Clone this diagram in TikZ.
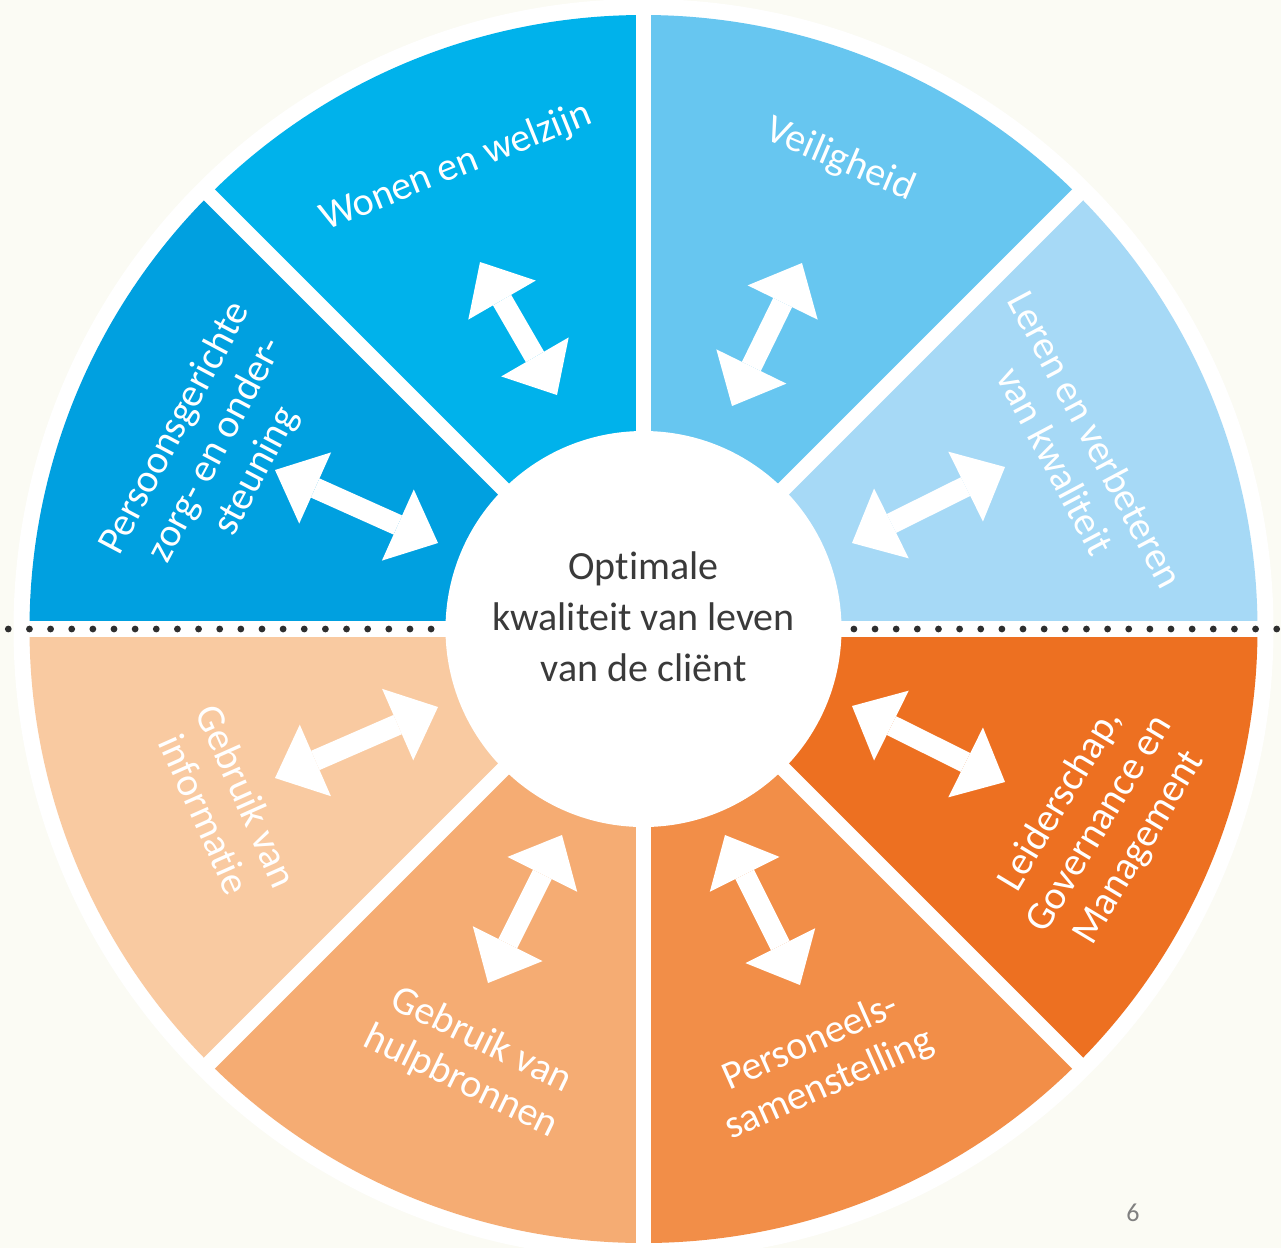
\documentclass[tikz,border=0pt]{standalone}
\usepackage{fontspec}
\setmainfont[Ligatures=NoCommon]{Carlito}
\usetikzlibrary{arrows.meta}
\definecolor{bg}{HTML}{FBFBF4}
\definecolor{cWonen}{HTML}{00B2EB}
\definecolor{cPers}{HTML}{00A0E0}
\definecolor{cVeil}{HTML}{67C6F0}
\definecolor{cLeren}{HTML}{A6D9F6}
\definecolor{cLeid}{HTML}{ED7021}
\definecolor{cPerso}{HTML}{F28E48}
\definecolor{cHulp}{HTML}{F5AC73}
\definecolor{cInfo}{HTML}{F9CAA1}
\definecolor{txt}{HTML}{3A3A3A}
\definecolor{dotc}{HTML}{2E2E2E}
\definecolor{pgc}{HTML}{808080}
\begin{document}
\begin{tikzpicture}[x=1pt,y=-1pt,
  lbl/.style={text=white, font=\fontsize{40}{46}\selectfont, align=center, inner sep=0pt},
  dbl/.style={draw=white, line width=21pt,
    {Triangle[length=44pt,width=78pt,line width=0pt]}-{Triangle[length=44pt,width=78pt,line width=0pt]}},
  gap/.style={draw=white, line width=15.5pt},
  sector/.style={fill=#1}
]
\useasboundingbox (0,0) rectangle (1281,1248);
\fill[bg] (0,0) rectangle (1281,1248);
\coordinate (C) at (643.5,629);
\fill[white] (C) circle[radius=630];
% sectors (coordinate angle = - screen angle)
\fill[sector=cLeren] (C) -- ++(0:614) arc[start angle=0,end angle=-45,radius=614] -- cycle;
\fill[sector=cVeil] (C) -- ++(-45:614) arc[start angle=-45,end angle=-90,radius=614] -- cycle;
\fill[sector=cWonen] (C) -- ++(-90:614) arc[start angle=-90,end angle=-135,radius=614] -- cycle;
\fill[sector=cPers] (C) -- ++(-135:614) arc[start angle=-135,end angle=-180,radius=614] -- cycle;
\fill[sector=cInfo] (C) -- ++(-180:614) arc[start angle=-180,end angle=-225,radius=614] -- cycle;
\fill[sector=cHulp] (C) -- ++(-225:614) arc[start angle=-225,end angle=-270,radius=614] -- cycle;
\fill[sector=cPerso] (C) -- ++(-270:614) arc[start angle=-270,end angle=-315,radius=614] -- cycle;
\fill[sector=cLeid] (C) -- ++(-315:614) arc[start angle=-315,end angle=-360,radius=614] -- cycle;
% white gaps
\foreach \a in {45,90,135,225,270,315} \draw[gap] (C) -- ++(\a:628);
\draw[gap, line width=16.5pt] (C) ++(-628,0) -- ++(1256,0);
% dotted line
\foreach \i in {0,...,60} \fill[dotc] (8.3+21.14*\i,629) circle[radius=3.4];
% centre
\fill[white] (C) circle[radius=198];
\node[font=\fontsize{40}{51}\selectfont, text=txt, align=center, inner sep=0pt] (centre) at (643.5,617)
  {Optimale\\kwaliteit van leven\\van de cliënt};
% labels
\node[lbl, rotate=22] (wonen) at (456,167) {Wonen en welzijn};
\node[lbl, rotate=-23] (veil) at (840,160) {Veiligheid};
\node[lbl, rotate=-62] (leren) at (1076,450) {Leren en verbeteren\\van kwaliteit};
\node[lbl, rotate=62] (pers) at (216,450) {Persoonsgerichte\\zorg- en onder-\\steuning};
\node[lbl, rotate=-66] (info) at (226,805) {Gebruik van\\informatie};
\node[lbl, rotate=-26] (hulp) at (471,1061) {Gebruik van\\hulpbronnen};
\node[lbl, rotate=24] (perso) at (820,1064) {Personeels-\\samenstelling};
\node[lbl, rotate=59] (leid) at (1100,824) {Leiderschap,\\Governance en\\Management};
% arrows
\coordinate (w1) at (480,262); \coordinate (w2) at (557,395);
\coordinate (v1) at (802,263); \coordinate (v2) at (732,406);
\coordinate (l1) at (1005,467); \coordinate (l2) at (852,543);
\coordinate (p1) at (275,470); \coordinate (p2) at (438,543);
\coordinate (i1) at (275,778); \coordinate (i2) at (438,707);
\coordinate (h1) at (488,983); \coordinate (h2) at (562,835);
\coordinate (s1) at (725,835); \coordinate (s2) at (800,985);
\coordinate (g1) at (852,706); \coordinate (g2) at (1005,782);
\draw[dbl] (w1) -- (w2);
\draw[dbl] (v1) -- (v2);
\draw[dbl] (l1) -- (l2);
\draw[dbl] (p1) -- (p2);
\draw[dbl] (i1) -- (i2);
\draw[dbl] (h1) -- (h2);
\draw[dbl] (s1) -- (s2);
\draw[dbl] (g1) -- (g2);
% page number
\node[font=\fontsize{26}{30}\selectfont, text=pgc, inner sep=0pt] (page) at (1133,1213) {6};
\end{tikzpicture}
\end{document}
